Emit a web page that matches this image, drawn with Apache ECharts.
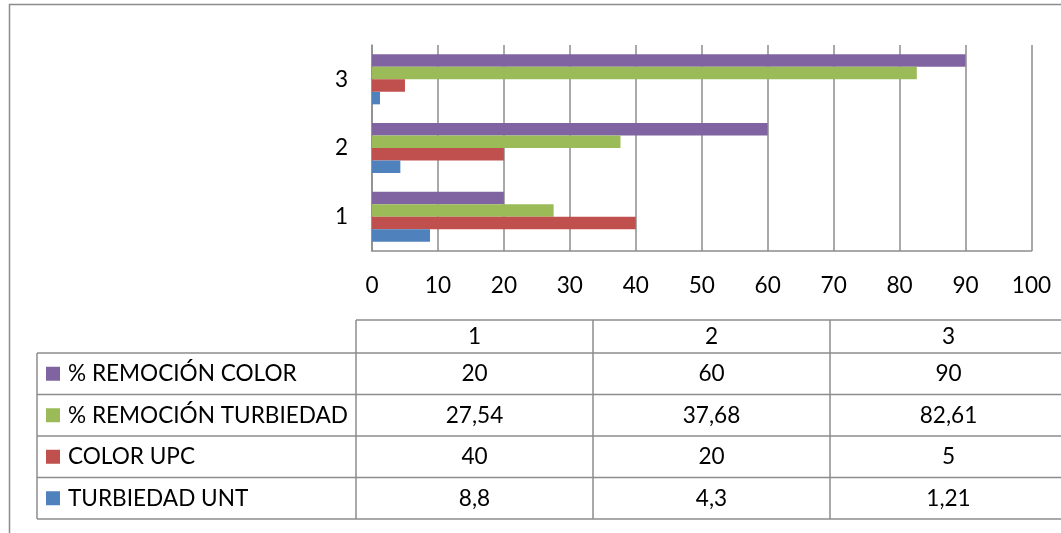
<!DOCTYPE html>
<html>
<head>
<meta charset="utf-8">
<script src="https://cdn.jsdelivr.net/npm/echarts@6/dist/echarts.min.js"></script>
<style>
  html, body { margin: 0; padding: 0; background: #fff; }
  #chart { width: 1061px; height: 533px; }
</style>
</head>
<body>
<div id="chart"></div>
<script>
// Categories (sample numbers) and the four measured series
const categories = ['1', '2', '3'];
const seriesNames = ['% REMOCIÓN COLOR', '% REMOCIÓN TURBIEDAD', 'COLOR UPC', 'TURBIEDAD UNT'];
const remocionColor = [20, 60, 90];
const remocionTurbiedad = [27.54, 37.68, 82.61];
const colorUpc = [40, 20, 5];
const turbiedadUnt = [8.8, 4.3, 1.21];
const xTicks = { min: 0, max: 100, interval: 10 };

const seriesValues = [remocionColor, remocionTurbiedad, colorUpc, turbiedadUnt];
const seriesColors = ['#8064A2', '#9BBB59', '#C0504D', '#4F81BD'];

const FONT = 'Lato';
const FS = 22.6;
const LINE = '#8c8c8c';

const chart = echarts.init(document.getElementById('chart'), null, { renderer: 'canvas' });

function fmt(v) { return String(v).replace('.', ','); }

// Data table under the plot: header row of categories, one row per series
function buildTable() {
  const els = [];
  const colX = [356, 593, 830, 1067];
  const legendX = 37;
  const headTop = 320;
  const rowY = [353, 394.5, 436, 477.5, 519];
  const line = (x1, y1, x2, y2) => ({
    type: 'line', silent: true,
    shape: { x1, y1, x2, y2 },
    style: { stroke: LINE, lineWidth: 1.5 }
  });
  // horizontal rules
  els.push(line(colX[0], headTop, colX[3], headTop));
  rowY.forEach(y => els.push(line(legendX, y, colX[3], y)));
  // vertical rules
  els.push(line(legendX, rowY[0], legendX, rowY[4]));
  colX.forEach(x => els.push(line(x, headTop, x, rowY[4])));
  // header labels
  categories.forEach((c, i) => {
    els.push({
      type: 'text', silent: true,
      x: (colX[i] + colX[i + 1]) / 2, y: (headTop + rowY[0]) / 2,
      style: { text: c, font: FS + 'px ' + FONT, fill: '#000', align: 'center', verticalAlign: 'middle' }
    });
  });
  // series rows
  seriesNames.forEach((name, r) => {
    const cy = (rowY[r] + rowY[r + 1]) / 2;
    els.push({
      type: 'rect', silent: true,
      shape: { x: 46, y: cy - 7, width: 14, height: 14 },
      style: { fill: seriesColors[r] }
    });
    els.push({
      type: 'text', silent: true,
      x: 68, y: cy,
      style: { text: name, font: FS + 'px ' + FONT, fill: '#000', align: 'left', verticalAlign: 'middle' }
    });
    seriesValues[r].forEach((v, i) => {
      els.push({
        type: 'text', silent: true,
        x: (colX[i] + colX[i + 1]) / 2, y: cy,
        style: { text: fmt(v), font: FS + 'px ' + FONT, fill: '#000', align: 'center', verticalAlign: 'middle' }
      });
    });
  });
  // outer chart frame
  els.push({
    type: 'rect', silent: true,
    shape: { x: 9.5, y: 4.5, width: 1200, height: 700 },
    style: { fill: null, stroke: LINE, lineWidth: 1.5 }
  });
  return els;
}

const option = {
  animation: false,
  backgroundColor: '#fff',
  grid: { left: 372, right: 29.5, top: 45, bottom: 282, containLabel: false },
  xAxis: {
    type: 'value',
    min: xTicks.min, max: xTicks.max, interval: xTicks.interval,
    axisLine: { show: true, lineStyle: { color: LINE, width: 1.5 } },
    axisTick: { show: false },
    splitLine: { show: true, lineStyle: { color: LINE, width: 1.5 } },
    axisLabel: { color: '#000', fontFamily: FONT, fontSize: FS, margin: 23 }
  },
  yAxis: {
    type: 'category',
    data: categories,
    axisLine: { show: true, lineStyle: { color: LINE, width: 1.5 } },
    axisTick: { show: false },
    splitLine: { show: false },
    axisLabel: { color: '#000', fontFamily: FONT, fontSize: FS, margin: 24 }
  },
  series: seriesNames.map((name, i) => ({
    name,
    type: 'bar',
    data: seriesValues[i],
    barWidth: 12.5,
    barGap: '0%',
    itemStyle: { color: seriesColors[i] }
  })),
  graphic: buildTable()
};

chart.setOption(option);
</script>
</body>
</html>
